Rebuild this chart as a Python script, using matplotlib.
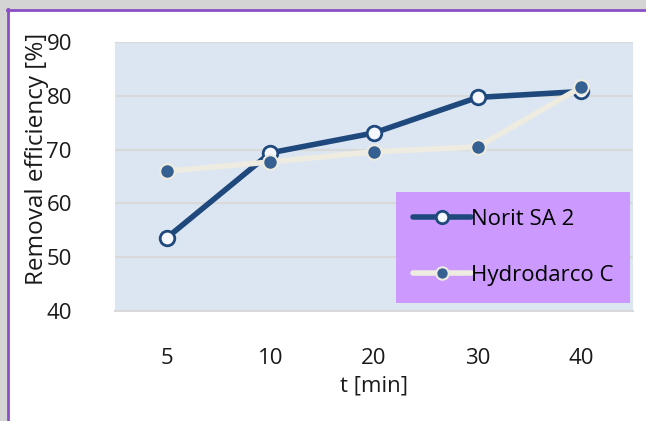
import matplotlib
matplotlib.use("Agg")
import matplotlib.pyplot as plt
from matplotlib.patches import Rectangle
import numpy as np

categories = ["5", "10", "20", "30", "40"]
norit = [53.6, 69.4, 73.1, 79.7, 80.8]
hydro = [66.0, 67.7, 69.6, 70.5, 81.6]
yticks = [40, 50, 60, 70, 80, 90]

plt.rcParams['font.family'] = ['Open Sans', 'DejaVu Sans']

W, H = 646, 421
fig = plt.figure(figsize=(W / 100, H / 100), dpi=100)
fig.patch.set_facecolor('#d4d4d4')

# white chart area with purple frame
fig.add_artist(Rectangle((8 / W, 0), 1, 1 - 10 / H, transform=fig.transFigure,
                         facecolor='white', edgecolor='none', zorder=-10))
fig.add_artist(plt.Line2D([8 / W, 8 / W], [0, 1 - 9 / H], transform=fig.transFigure,
                          color='#8a4fc4', lw=2.0, zorder=-5))
fig.add_artist(plt.Line2D([7 / W, 1], [1 - 10 / H, 1 - 10 / H], transform=fig.transFigure,
                          color='#8a4fc4', lw=2.0, zorder=-5))

left, right, top, bottom = 115, 633, 42, 311
ax = fig.add_axes([left / W, 1 - bottom / H, (right - left) / W, (bottom - top) / H])
ax.set_facecolor('#dce6f2')
x = np.arange(len(categories))

ax.plot(x, norit, color='#1f497d', lw=4, marker='o', ms=10.5,
        mfc='#f4f7fb', mec='#1f497d', mew=2, label='Norit SA 2', zorder=3,
        solid_capstyle='round')
ax.plot(x, hydro, color='#eeece1', lw=4, marker='o', ms=10.5,
        mfc='#376092', mec='#eeece1', mew=1.5, label='Hydrodarco C', zorder=4,
        solid_capstyle='round')

ax.set_xlim(-0.5, len(categories) - 0.5)
ax.set_ylim(40, 90)
ax.set_yticks(yticks)
ax.set_xticks(x)
ax.set_xticklabels(categories)
ax.yaxis.grid(True, color='#d9d9d9', lw=1.5)
ax.set_axisbelow(True)
for s in ['left', 'right', 'top']:
    ax.spines[s].set_visible(False)
ax.spines['bottom'].set_color('#d9d9d9')
ax.spines['bottom'].set_linewidth(1.5)
ax.tick_params(length=0, labelsize=16, colors='#1a1a1a')
ax.tick_params(axis='x', pad=27)
ax.tick_params(axis='y', pad=31)
ax.set_xlabel('t [min]', fontsize=16, color='#1a1a1a', labelpad=4)
ax.set_ylabel('Removal efficiency [%]', fontsize=17.5, color='#1a1a1a')
ax.yaxis.set_label_coords(-0.128, 0.565)

leg = ax.legend(loc='upper right', bbox_to_anchor=(0.994, (311 - 192) / 269),
                frameon=True, fancybox=False, fontsize=16, handlelength=2.6,
                handletextpad=0.0, labelspacing=1.6, borderpad=0.75, borderaxespad=0,
                markerscale=0.85)
leg.get_frame().set_facecolor('#cc99ff')
leg.get_frame().set_edgecolor('none')
leg.get_frame().set_alpha(1)

fig.savefig('out.png', dpi=100, facecolor=fig.get_facecolor())
